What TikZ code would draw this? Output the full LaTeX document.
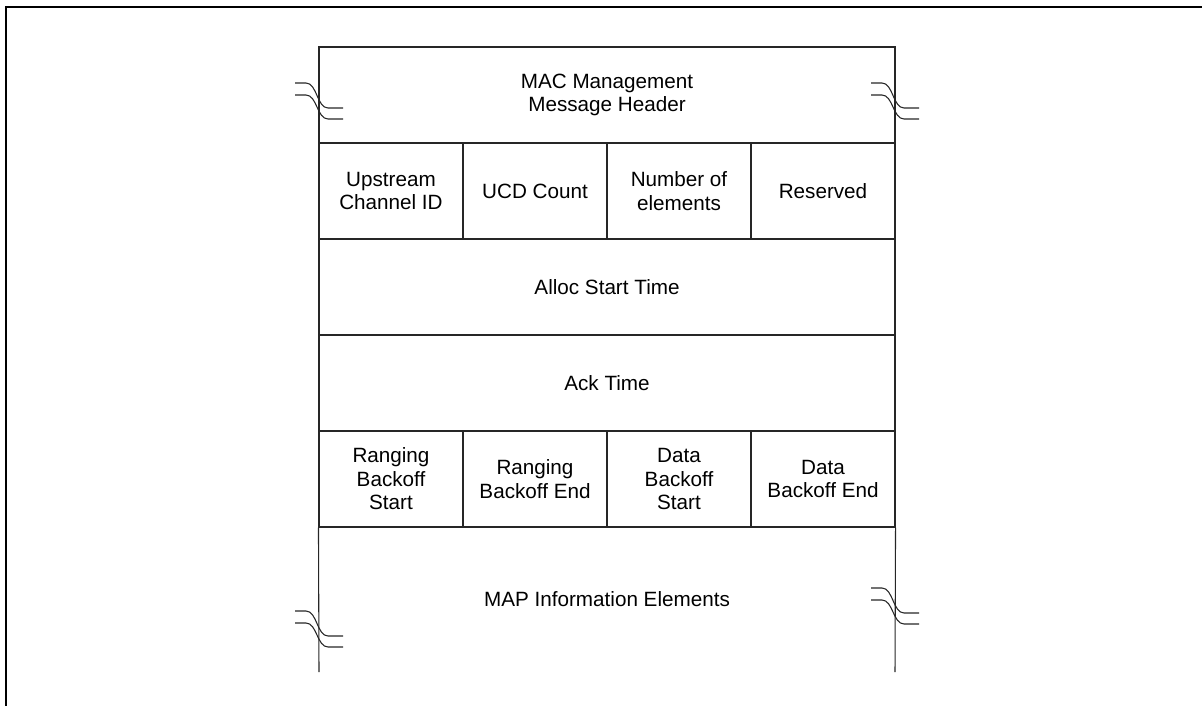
\documentclass[tikz,border=0pt]{standalone}
\usepackage{fontspec}
\setmainfont{Liberation Sans}
\begin{document}
\begin{tikzpicture}[x=0.75pt,y=-0.75pt,
  every node/.style={font=\fontsize{15.5pt}{17.6pt}\selectfont, align=center, inner sep=0pt},
  cell/.style={draw=black!85, line width=0.8pt, minimum width=108pt, minimum height=72pt},
  wide/.style={draw=black!85, line width=0.8pt, minimum width=432pt, minimum height=72pt},
  frame/.style={line width=1.5pt},
  side/.style={draw=black!85, line width=0.8pt},
  brk/.style={line width=0.8pt, black!85}]
\useasboundingbox (0,0) rectangle (1202,706);
\draw[frame] (6,706) -- (6,7) -- (1202,7);

\node[wide] (hdr) at (607,95) {MAC Management\\Message Header};
\node[cell] (ucid) at (391,191) {Upstream\\Channel ID};
\node[cell] (ucd) at (535,191) {UCD Count};
\node[cell] (num) at (679,191) {Number of\\elements};
\node[cell] (res) at (823,191) {Reserved};
\node[wide] (alloc) at (607,287) {Alloc Start Time};
\node[wide] (ack) at (607,383) {Ack Time};
\node[cell] (rbs) at (391,479) {Ranging\\Backoff\\Start};
\node[cell] (rbe) at (535,479) {Ranging\\Backoff End};
\node[cell] (dbs) at (679,479) {Data\\Backoff\\Start};
\node[cell] (dbe) at (823,479) {Data\\Backoff End};
\node (map) at (607,599.5) {MAP Information Elements};
\coordinate (bl) at (319,672);
\coordinate (br) at (895,672);
\draw[side] (rbs.south west) -- (bl);
\draw[side] (dbe.south east) -- (br);

% break marks
\foreach \x/\y in {319/83, 895/83, 319/611, 895/588}{
  \draw[brk] (\x-24,\y) -- (\x-13,\y) .. controls (\x-2,\y) and (\x-2,\y+25) .. (\x+9,\y+25) -- (\x+24,\y+25);
  \draw[brk] (\x-24,\y+12) -- (\x-13,\y+12) .. controls (\x-2,\y+12) and (\x-2,\y+36) .. (\x+9,\y+36) -- (\x+24,\y+36);
}
\end{tikzpicture}
\end{document}
